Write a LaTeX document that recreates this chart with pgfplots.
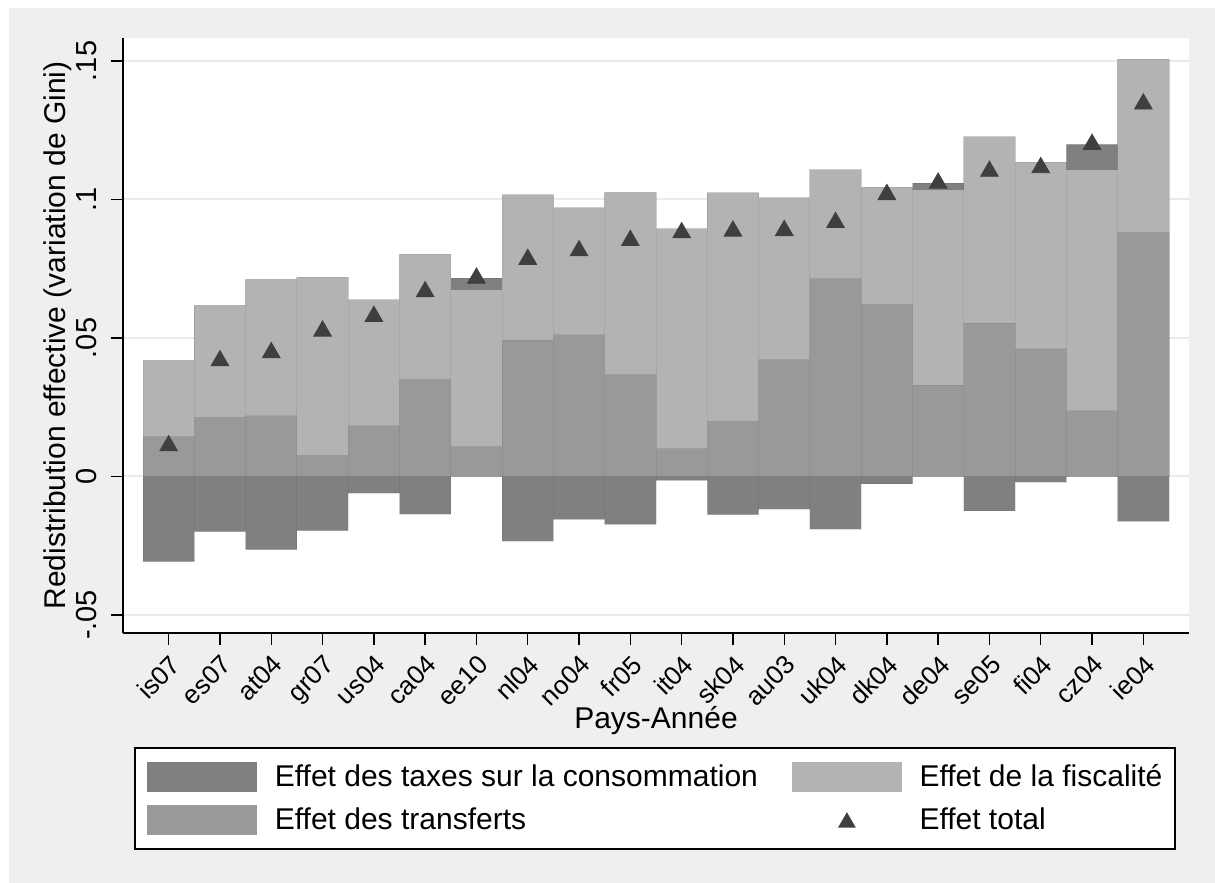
\documentclass[border=0pt]{standalone}
\usepackage{fontspec}
\setmainfont{Liberation Sans}
\usepackage{pgfplots}
\usepackage{pgfplotstable}
\pgfplotsset{compat=1.18}

\definecolor{bgout}{HTML}{EFEFEF}
\definecolor{conso}{HTML}{808080}
\definecolor{fisc}{HTML}{B3B3B3}
\definecolor{transf}{HTML}{999999}
\definecolor{tri}{HTML}{3F3F3F}
\definecolor{gridc}{HTML}{EAEAEA}

% T = transferts, F = fiscalite, C = taxes sur la consommation, tot = effet total
\pgfplotstableread{
x  pays T      F      C       tot
0  is07 0.0144 0.0274 -0.0307 0.0111
1  es07 0.0213 0.0404 -0.0199 0.0418
2  at04 0.0219 0.0492 -0.0264 0.0447
3  gr07 0.0076 0.0644 -0.0195 0.0525
4  us04 0.0183 0.0455 -0.0060 0.0578
5  ca04 0.0351 0.0452 -0.0136 0.0667
6  ee10 0.0108 0.0566 0.0042  0.0716
7  nl04 0.0492 0.0525 -0.0233 0.0784
8  no04 0.0511 0.0459 -0.0155 0.0815
9  fr05 0.0368 0.0657 -0.0173 0.0852
10 it04 0.0101 0.0793 -0.0014 0.0880
11 sk04 0.0199 0.0825 -0.0138 0.0886
12 au03 0.0422 0.0584 -0.0118 0.0888
13 uk04 0.0714 0.0393 -0.0190 0.0917
14 dk04 0.0621 0.0424 -0.0027 0.1018
15 de04 0.0330 0.0705 0.0024  0.1059
16 se05 0.0554 0.0672 -0.0124 0.1102
17 fi04 0.0461 0.0674 -0.0020 0.1115
18 cz04 0.0237 0.0870 0.0092  0.1199
19 ie04 0.0881 0.0626 -0.0162 0.1345
}\data

\pgfplotsset{
  barre/.style={ybar, bar width=1, bar shift=0pt, draw=black, draw opacity=0.06,
    line width=0.5pt, forget plot},
}

\begin{document}
\begin{tikzpicture}
\fill[white] (-61.5pt,-125pt) rectangle (546pt,316.5pt);
\fill[bgout] (-57pt,-125pt) rectangle (546pt,312.5pt);
\begin{axis}[
  scale only axis, width=533pt, height=297.5pt,
  xmin=-0.89, xmax=19.89, ymin=-0.0565, ymax=0.1583,
  axis x line*=bottom, axis y line*=left,
  axis line style={black, line width=0.7pt, -},
  axis background/.style={fill=white},
  xtick={0,...,19}, xticklabels from table={\data}{pays},
  ytick={-0.05,0,0.05,0.1,0.15}, yticklabels={-.05,0,.05,.1,.15},
  tick align=outside, major tick length=6pt,
  tick style={black, line width=0.7pt},
  ymajorgrids, grid style={gridc, line width=1pt},
  xticklabel style={font=\fontsize{13}{15}\selectfont, rotate=45, anchor=north east, inner sep=0pt},
  yticklabel style={font=\fontsize{14.5}{17}\selectfont, rotate=90, anchor=south, inner sep=0pt},
  xticklabel shift=4pt,
  yticklabel shift=7pt,
  xlabel={Pays-Année},
  ylabel={Redistribution effective (variation de Gini)},
  every axis x label/.style={at={(axis description cs:0.5,-0.1597)}, anchor=base,
    font=\fontsize{15}{18}\selectfont},
  every axis y label/.style={at={(axis description cs:-0.061,0.5)}, rotate=90, anchor=center,
    font=\fontsize{15}{18}\selectfont},
  legend columns=2,
  legend cell align=left,
  legend style={at={(axis description cs:0.01032,-0.1916)}, anchor=north west,
    draw=black, line width=0.8pt, fill=white,
    inner xsep=6.25pt, inner ysep=7pt, row sep=6.5pt, column sep=0pt,
    nodes={inner sep=0pt},
    font=\fontsize{15}{18}\selectfont,
    /tikz/column 2/.style={column sep=17pt}},
]
\addlegendimage{legend image code/.code={\fill[conso, draw=none] (0pt,-7.5pt) rectangle (55pt,7.5pt);\path[draw=none] (63.8pt,0pt);}}
\addlegendentry{Effet des taxes sur la consommation}
\addlegendimage{legend image code/.code={\fill[fisc, draw=none] (0pt,-7.5pt) rectangle (55pt,7.5pt);\path[draw=none] (63.8pt,0pt);}}
\addlegendentry{Effet de la fiscalité}
\addlegendimage{legend image code/.code={\fill[transf, draw=none] (0pt,-7.5pt) rectangle (55pt,7.5pt);\path[draw=none] (63.8pt,0pt);}}
\addlegendentry{Effet des transferts}
\addlegendimage{legend image code/.code={\path[draw=none, fill=none] (0pt,-7.5pt) rectangle (63.8pt,7.5pt);
  \fill[tri, draw=none] (27.5pt,3.8pt) -- (23.08pt,-3.85pt) -- (31.92pt,-3.85pt) -- cycle;}}
\addlegendentry{Effet total}

% consommation positive (au-dessus)
\addplot[barre, fill=conso] table[x=x, y expr={\thisrow{T}+\thisrow{F}+max(\thisrow{C},0)}] {\data};
% fiscalite
\addplot[barre, fill=fisc] table[x=x, y expr={\thisrow{T}+\thisrow{F}}] {\data};
% transferts
\addplot[barre, fill=transf] table[x=x, y=T] {\data};
% consommation negative
\addplot[barre, fill=conso, y filter/.expression={y>=0 ? nan : y}] table[x=x, y=C] {\data};
% effet total
\addplot[only marks, mark=triangle*, mark size=5.1pt, draw=tri, fill=tri, forget plot]
  table[x=x, y=tot] {\data};
\end{axis}
\end{tikzpicture}
\end{document}
